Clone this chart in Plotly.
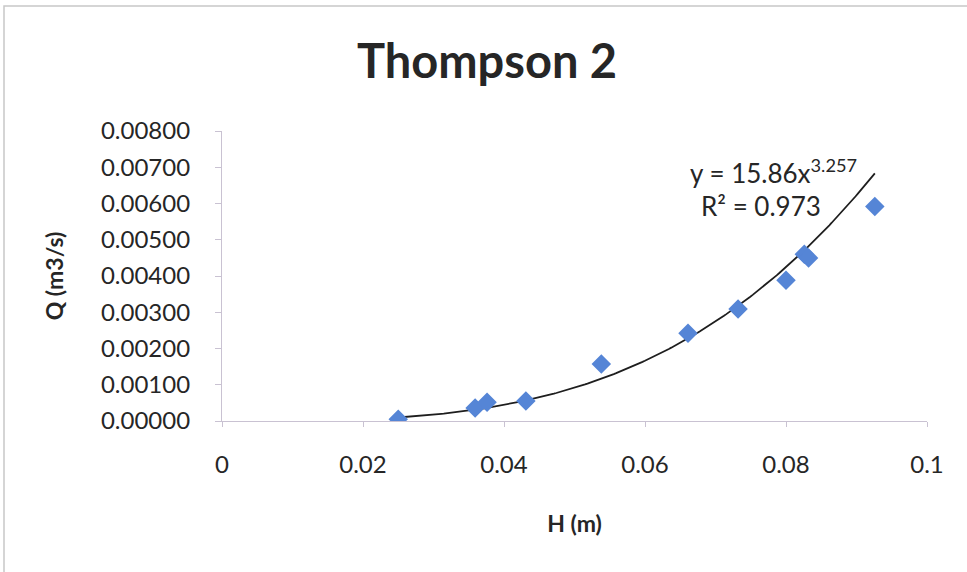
import numpy as np
import plotly.graph_objects as go

# Data
H = [0.0250, 0.0359, 0.0376, 0.0431, 0.0538, 0.0661, 0.0732, 0.0800, 0.0826, 0.0832, 0.0926]
Q = [0.00005, 0.00036, 0.00052, 0.00055, 0.00157, 0.00242, 0.00309, 0.00388, 0.00460, 0.00450, 0.00592]

# Power trendline as printed on the chart
coef_a = 15.86
coef_b = 3.257
r2 = 0.973

x_ticks = [0, 0.02, 0.04, 0.06, 0.08, 0.1]
x_tick_labels = ["0", "0.02", "0.04", "0.06", "0.08", "0.1"]
y_ticks = [0, 0.001, 0.002, 0.003, 0.004, 0.005, 0.006, 0.007, 0.008]
y_tick_labels = ["0.00000", "0.00100", "0.00200", "0.00300", "0.00400",
                 "0.00500", "0.00600", "0.00700", "0.00800"]

W, Hh = 967, 572
ml, mr, mt, mb = 222, 40, 131, 151

xt = np.linspace(min(H), max(H), 200)
yt = coef_a * xt ** coef_b

FONT = "Lato"
TXT = "#262626"
fig = go.Figure()
fig.add_trace(go.Scatter(x=xt, y=yt, mode="lines",
                         line=dict(color="#1e1e1e", width=1.8), showlegend=False,
                         hoverinfo="skip"))
fig.add_trace(go.Scatter(x=H, y=Q, mode="markers",
                         marker=dict(symbol="diamond", size=15, color="#5585d6",
                                     line=dict(width=0)),
                         showlegend=False))

fig.add_annotation(x=0.0782, y=0.00688, xref="x", yref="y",
                   text=f"y = {coef_a}x<sup>{coef_b}</sup>", showarrow=False,
                   font=dict(family=FONT, size=26, color=TXT))
fig.add_annotation(x=0.0765, y=0.00594, xref="x", yref="y",
                   text=f"R² = {r2}", showarrow=False,
                   font=dict(family=FONT, size=26, color=TXT))

# outer chart border
pw, ph = W - ml - mr, Hh - mt - mb
fig.add_shape(type="rect", xref="paper", yref="paper",
              x0=(4 - ml) / pw, x1=(W + 5 - ml) / pw,
              y0=-(mb + 5) / ph, y1=(Hh - mb - 6) / ph,
              line=dict(color="#c8c8c8", width=1.5), layer="below")

fig.update_layout(
    width=W, height=Hh,
    margin=dict(l=ml, r=mr, t=mt, b=mb),
    paper_bgcolor="white", plot_bgcolor="white",
    title=dict(text="<b>Thompson 2</b>", x=487 / W, xanchor="center",
               y=1 - 62 / Hh, yanchor="middle",
               font=dict(family=FONT, size=47, color=TXT)),
    font=dict(family=FONT, color=TXT),
    xaxis=dict(range=[0, 0.1], tickvals=x_ticks, ticktext=x_tick_labels,
               showgrid=False, zeroline=False, showline=True,
               linecolor="#c9c2d2", linewidth=1.2,
               ticks="outside", ticklen=5, tickcolor="#c9c2d2",
               ticklabelstandoff=17,
               tickfont=dict(family=FONT, size=24, color=TXT),
               title=dict(text="<b>H (m)</b>", standoff=38,
                          font=dict(family=FONT, size=23, color=TXT))),
    yaxis=dict(range=[0, 0.008], tickvals=y_ticks, ticktext=y_tick_labels,
               showgrid=False, zeroline=False, showline=True,
               linecolor="#c9c2d2", linewidth=1.2,
               ticks="outside", ticklen=6, tickcolor="#c9c2d2",
               ticklabelstandoff=20,
               tickfont=dict(family=FONT, size=24, color=TXT),
               title=dict(text="<b>Q (m3/s)</b>", standoff=30,
                          font=dict(family=FONT, size=23, color=TXT))),
)

fig.write_html("out.html")
